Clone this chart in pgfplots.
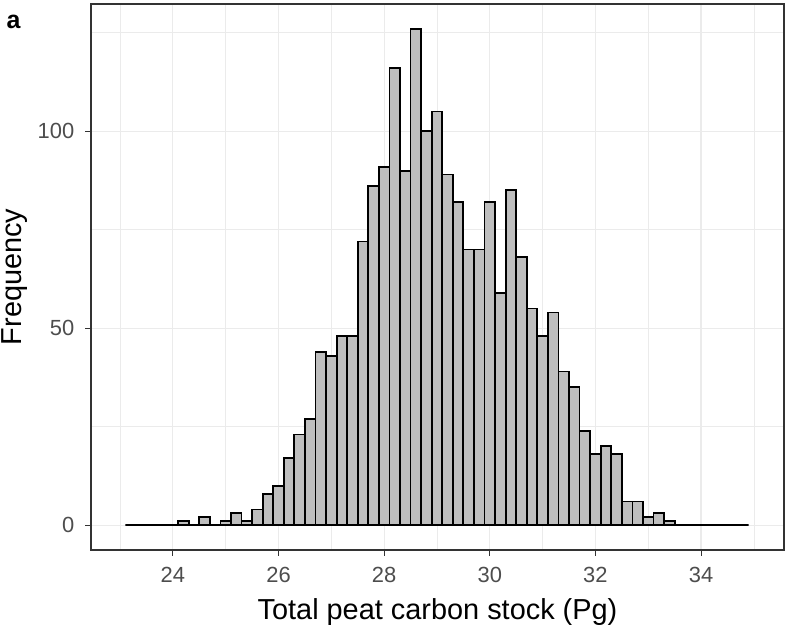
\documentclass[border=0pt]{standalone}
\usepackage{pgfplots}
\pgfplotsset{compat=1.18}
\usepackage{fontspec}
\setmainfont{Liberation Sans}
\definecolor{grey20}{RGB}{51,51,51}
\definecolor{grey30}{RGB}{77,77,77}
\definecolor{grey92}{RGB}{235,235,235}
\definecolor{grey75}{RGB}{190,190,190}
\begin{document}
\begin{tikzpicture}
\useasboundingbox (-91bp,-84bp) rectangle (700bp,550bp);
\begin{axis}[
  at={(0,0)}, anchor=south west,
  scale only axis, width=693bp, height=546bp,
  xmin=22.45, xmax=35.57, ymin=-6.3, ymax=132.3,
  xtick={24,26,...,34}, minor xtick={23,25,...,35},
  ytick={0,50,100}, minor ytick={25,75,125},
  xtick pos=bottom, ytick pos=left,
  grid=both,
  major grid style={draw=grey92, line width=1.2bp},
  minor grid style={draw=grey92, line width=0.6bp},
  axis line style={draw=grey20, line width=1.1bp},
  tick align=outside, major tick length=5.5bp, minor tick length=0pt,
  major tick style={draw=grey20, line width=1.1bp},
  /pgf/number format/assume math mode=true,
  xticklabel style={font=\fontsize{22}{22}\selectfont, text=grey30, anchor=north, inner sep=0pt, yshift=-11.5bp},
  yticklabel style={font=\fontsize{22}{22}\selectfont, text=grey30, anchor=east, inner sep=0pt, xshift=-11bp},
]
\addplot[ybar interval, fill=grey75, draw=black, line width=1.8bp] table[x=x, y=y] {
x y
23.1 0
23.3 0
23.5 0
23.7 0
23.9 0
24.1 1
24.3 0
24.5 2
24.7 0
24.9 1
25.1 3
25.3 1
25.5 4
25.7 8
25.9 10
26.1 17
26.3 23
26.5 27
26.7 44
26.9 43
27.1 48
27.3 48
27.5 72
27.7 86
27.9 91
28.1 116
28.3 90
28.5 126
28.7 100
28.9 105
29.1 89
29.3 82
29.5 70
29.7 70
29.9 82
30.1 59
30.3 85
30.5 68
30.7 55
30.9 48
31.1 54
31.3 39
31.5 35
31.7 24
31.9 18
32.1 20
32.3 18
32.5 6
32.7 6
32.9 2
33.1 3
33.3 1
33.5 0
33.7 0
33.9 0
34.1 0
34.3 0
34.5 0
34.7 0
34.9 0
};
\end{axis}
\node[anchor=base, inner sep=0pt, font=\fontsize{29}{29}\selectfont] at (346.5bp,-69bp) {Total peat carbon stock (Pg)};
\node[rotate=90, anchor=base, inner sep=0pt, font=\fontsize{29}{29}\selectfont] at (-69bp,273bp) {Frequency};
\node[anchor=base west, inner sep=0pt, font=\fontsize{25}{25}\selectfont\bfseries] at (-84.5bp,521.7bp) {a};
\end{tikzpicture}
\end{document}
